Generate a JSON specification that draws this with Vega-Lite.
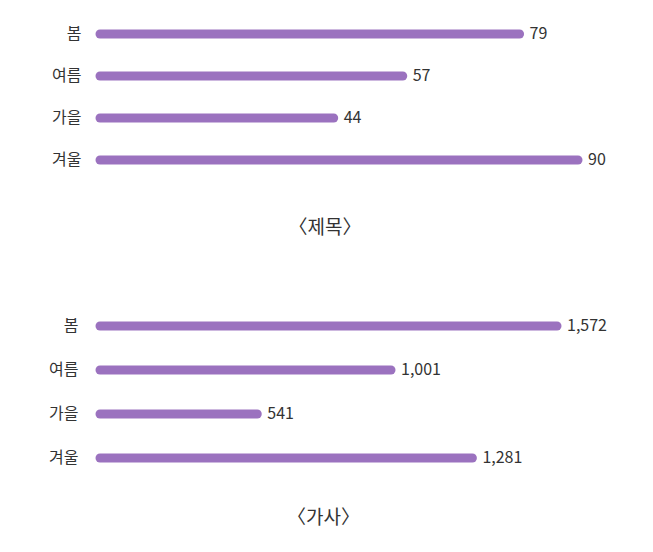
{
  "$schema": "https://vega.github.io/schema/vega-lite/v6.json",
  "padding": {"top": 13, "left": 48, "right": 5, "bottom": 5},
  "background": "white",
  "datasets": {
    "title": [
      {"season": "봄", "value": 79},
      {"season": "여름", "value": 57},
      {"season": "가을", "value": 44},
      {"season": "겨울", "value": 90}
    ],
    "lyrics": [
      {"season": "봄", "value": 1572},
      {"season": "여름", "value": 1001},
      {"season": "가을", "value": 541},
      {"season": "겨울", "value": 1281}
    ]
  },
  "spacing": 66,
  "resolve": {"scale": {"x": "independent", "y": "independent"}},
  "vconcat": [
    {
      "data": {"name": "title"},
      "width": 478,
      "height": 168,
      "title": {"text": "〈제목〉", "orient": "bottom", "offset": 38, "dx": -14, "font": "Noto Sans CJK KR", "fontSize": 19, "fontWeight": "normal", "color": "#333333"},
      "encoding": {
        "y": {"field": "season", "type": "nominal", "sort": null,
          "scale": {"paddingInner": 0, "paddingOuter": 0},
          "axis": {"title": null, "domain": false, "ticks": false, "labelPadding": 19, "labelFont": "Noto Sans CJK KR", "labelFontSize": 16, "labelColor": "#333333"}},
        "x": {"field": "value", "type": "quantitative", "scale": {"domain": [0, 90]}, "axis": null}
      },
      "layer": [
        {"mark": {"type": "rule", "strokeWidth": 9, "strokeCap": "round", "color": "#9b72bf"},
         "encoding": {"x": {"datum": 0, "type": "quantitative"}, "x2": {"field": "value"}}},
        {"mark": {"type": "text", "align": "left", "dx": 10, "font": "Noto Sans CJK KR", "fontSize": 16, "color": "#333333"},
         "encoding": {"text": {"field": "value", "format": ","}}}
      ]
    },
    {
      "data": {"name": "lyrics"},
      "width": 457,
      "height": 176,
      "title": {"text": "〈가사〉", "orient": "bottom", "offset": 29, "dx": -5, "font": "Noto Sans CJK KR", "fontSize": 19, "fontWeight": "normal", "color": "#333333"},
      "encoding": {
        "y": {"field": "season", "type": "nominal", "sort": null,
          "scale": {"paddingInner": 0, "paddingOuter": 0},
          "axis": {"title": null, "domain": false, "ticks": false, "labelPadding": 22, "labelFont": "Noto Sans CJK KR", "labelFontSize": 16, "labelColor": "#333333"}},
        "x": {"field": "value", "type": "quantitative", "scale": {"domain": [0, 1572]}, "axis": null}
      },
      "layer": [
        {"mark": {"type": "rule", "strokeWidth": 9, "strokeCap": "round", "color": "#9b72bf"},
         "encoding": {"x": {"datum": 0, "type": "quantitative"}, "x2": {"field": "value"}}},
        {"mark": {"type": "text", "align": "left", "dx": 10, "font": "Noto Sans CJK KR", "fontSize": 16, "color": "#333333"},
         "encoding": {"text": {"field": "value", "format": ","}}}
      ]
    }
  ],
  "config": {"view": {"stroke": null}}
}
